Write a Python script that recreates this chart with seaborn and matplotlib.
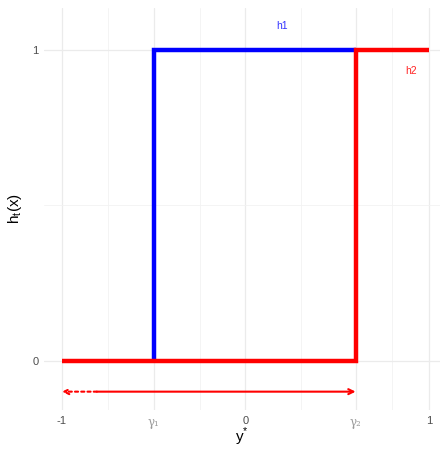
import numpy as np
import pandas as pd
import matplotlib
matplotlib.use("Agg")
import matplotlib.pyplot as plt
import seaborn as sns

# step functions
h1_x = [-0.5, -0.5, 0.6]
h1_y = [0, 1, 1]
h2_x = [-1, 0.6, 0.6, 1]
h2_y = [0, 0, 1, 1]

x_breaks = [-1, -0.5, 0, 0.6, 1]
x_labels = ["-1", "γ\u2081", "0", "γ\u2082", "1"]
x_minor = [-0.75, -0.25, 0.3, 0.8]
y_breaks = [0, 1]
y_minor = [0.5]

arrow_y = -0.1
arrow_split = -0.81

sns.set_theme(style="white")
plt.rcParams["font.family"] = ["Liberation Sans", "DejaVu Sans"]

fig = plt.figure(figsize=(4.44, 4.49), dpi=100)
ax = fig.add_axes([44 / 444, 39 / 449, 396 / 444, 402 / 449])

df1 = pd.DataFrame({"x": h1_x, "y": h1_y})
df2 = pd.DataFrame({"x": h2_x, "y": h2_y})
sns.lineplot(data=df1, x="x", y="y", sort=False, estimator=None, color="#0000ff",
             lw=3.2, ax=ax, solid_capstyle="butt", solid_joinstyle="miter", zorder=3)
sns.lineplot(data=df2, x="x", y="y", sort=False, estimator=None, color="#ff0000",
             lw=3.2, ax=ax, solid_capstyle="butt", solid_joinstyle="miter", zorder=4)

ax.text(0.2, 1.075, "h1", color="#3333ff", fontsize=7.5, ha="center", va="center")
ax.text(0.9, 0.93, "h2", color="#ff2222", fontsize=7.5, ha="center", va="center")

ax.annotate("", xy=(0.6, arrow_y), xytext=(arrow_split, arrow_y),
            arrowprops=dict(arrowstyle="->", color="#ff0000", lw=1.5,
                            shrinkA=0, shrinkB=0, mutation_scale=9))
ax.annotate("", xy=(-1, arrow_y), xytext=(arrow_split, arrow_y),
            arrowprops=dict(arrowstyle="->", color="#ff0000", lw=1.5,
                            linestyle=(0, (1.5, 1.5)), shrinkA=0, shrinkB=0,
                            mutation_scale=9))

ax.set_xlim(-1.098, 1.06)
ax.set_ylim(-0.159, 1.134)
ax.set_xticks(x_breaks)
ax.set_xticklabels(x_labels)
ax.set_xticks(x_minor, minor=True)
ax.set_yticks(y_breaks)
ax.set_yticklabels(["0", "1"])
ax.set_yticks(y_minor, minor=True)
ax.tick_params(axis="both", which="both", length=0, labelsize=8, pad=4)

for lbl in ax.get_xticklabels():
    if lbl.get_text().startswith("γ"):
        lbl.set_color("#9a9a9a")
        lbl.set_family(["DejaVu Serif"])
        lbl.set_fontsize(8.5)
    else:
        lbl.set_color("#4d4d4d")
for lbl in ax.get_yticklabels():
    lbl.set_color("#4d4d4d")

ax.grid(which="major", color="#ebebeb", lw=0.9)
ax.grid(which="minor", color="#f2f2f2", lw=0.6)
for s in ax.spines.values():
    s.set_visible(False)

ax.set_xlabel(r"y$^{\mathregular{*}}$", fontsize=11, color="black", va="center")
ax.xaxis.set_label_coords(0.5, -0.068)
ax.set_ylabel(r"h$_{\mathregular{t}}$(x)", fontsize=11, color="black", labelpad=6)

fig.savefig("out.png", dpi=100)
